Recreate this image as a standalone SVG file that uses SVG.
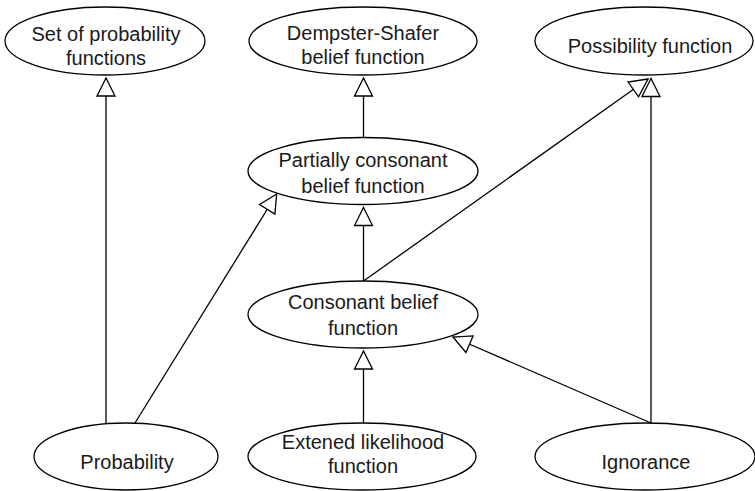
<svg xmlns="http://www.w3.org/2000/svg" width="755" height="491" viewBox="0 0 755 491">
  <style>
    .node ellipse { fill: #ffffff; stroke: #000000; stroke-width: 1.3; }
    .node text { font-family: "Liberation Sans", Arial, sans-serif; font-size: 20px; fill: #1a1a1a; text-anchor: middle; }
    .edge { fill: none; stroke: #000000; stroke-width: 1.3; marker-end: url(#hollow); }
  </style>
  <defs>
    <marker id="hollow" viewBox="0 0 22 22" markerWidth="22" markerHeight="22" refX="20" refY="11" orient="auto" markerUnits="userSpaceOnUse">
      <path d="M20,11 L2,2 L2,20 Z" fill="#ffffff" stroke="#000000" stroke-width="1.3" stroke-linejoin="miter"/>
    </marker>
  </defs>
  <rect width="755" height="491" fill="#ffffff"/>

  <g id="connectors">
    <line class="edge" x1="106" y1="424" x2="106" y2="78"/>
    <line class="edge" x1="135" y1="423" x2="276.7" y2="194"/>
    <line class="edge" x1="363.5" y1="137.5" x2="363.5" y2="78"/>
    <line class="edge" x1="363.5" y1="281" x2="363.5" y2="207.5"/>
    <line class="edge" x1="363.5" y1="281" x2="648" y2="79"/>
    <line class="edge" x1="363.5" y1="423" x2="363.5" y2="351"/>
    <line class="edge" x1="651" y1="423" x2="453" y2="337"/>
    <line class="edge" x1="651" y1="423" x2="651" y2="78.5"/>
  </g>

  <g id="set-of-probability" class="node">
    <ellipse cx="105" cy="41" rx="100" ry="34"/>
    <text x="106" y="41">Set of probability</text>
    <text x="106" y="65">functions</text>
  </g>
  <g id="dempster-shafer" class="node">
    <ellipse cx="363" cy="41" rx="114" ry="34"/>
    <text x="363" y="40">Dempster-Shafer</text>
    <text x="363" y="64">belief function</text>
  </g>
  <g id="possibility" class="node">
    <ellipse cx="644" cy="41" rx="109" ry="34"/>
    <text x="650" y="53">Possibility function</text>
  </g>
  <g id="partially-consonant" class="node">
    <ellipse cx="363" cy="171" rx="115" ry="33.5"/>
    <text x="363" y="167">Partially consonant</text>
    <text x="363" y="193">belief function</text>
  </g>
  <g id="consonant" class="node">
    <ellipse cx="363" cy="314.5" rx="115" ry="33.5"/>
    <text x="363" y="309">Consonant belief</text>
    <text x="363" y="335">function</text>
  </g>
  <g id="probability" class="node">
    <ellipse cx="126" cy="456.5" rx="92" ry="33.5"/>
    <text x="127" y="469">Probability</text>
  </g>
  <g id="extended-likelihood" class="node">
    <ellipse cx="362" cy="456.5" rx="114" ry="33.5"/>
    <text x="363" y="449">Extened likelihood</text>
    <text x="363" y="473">function</text>
  </g>
  <g id="ignorance" class="node">
    <ellipse cx="645" cy="456.5" rx="110" ry="33.5"/>
    <text x="646" y="469">Ignorance</text>
  </g>
</svg>
